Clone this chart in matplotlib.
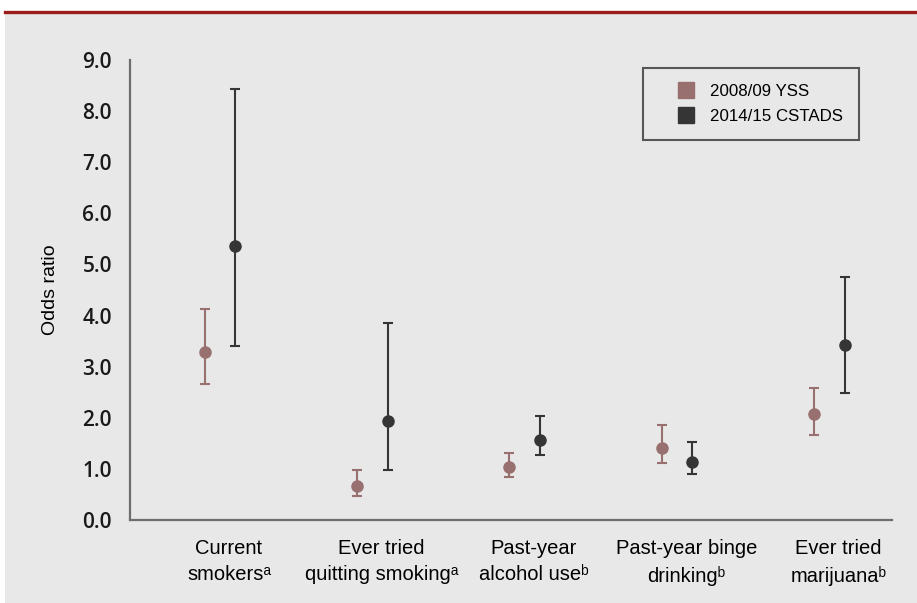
import numpy as np
import matplotlib
matplotlib.use("Agg")
import matplotlib.pyplot as plt
from matplotlib.lines import Line2D
from matplotlib.patches import Rectangle

# odds ratios with 95% CI
categories = ["Current\nsmokers\u1d43",
              "Ever tried\nquitting smoking\u1d43",
              "Past-year\nalcohol use\u1d47",
              "Past-year binge\ndrinking\u1d47",
              "Ever tried\nmarijuana\u1d47"]
yss_or = [3.29, 0.66, 1.04, 1.41, 2.07]
yss_lo = [2.67, 0.46, 0.85, 1.12, 1.66]
yss_hi = [4.12, 0.98, 1.31, 1.85, 2.59]
cst_or = [5.36, 1.94, 1.57, 1.14, 3.42]
cst_lo = [3.40, 0.97, 1.27, 0.90, 2.48]
cst_hi = [8.43, 3.85, 2.04, 1.53, 4.76]
series_names = ["2008/09 YSS", "2014/15 CSTADS"]
yticks = np.arange(0, 9.5, 1.0)

plt.rcParams['font.family'] = ['Liberation Sans', 'DejaVu Sans']

bg = '#e7e8e7'
c_yss = '#987070'
c_cst = '#353535'
spine_c = '#6e6e6e'

fig = plt.figure(figsize=(9.17, 6.03), dpi=100, facecolor='white')
# grey panel + dark red rule at the top
fig.add_artist(Rectangle((5/917, 0), 1, 1 - 14/603, transform=fig.transFigure,
                         facecolor=bg, edgecolor='none', zorder=-10))
fig.add_artist(Line2D([5/917, 1], [1 - 12/603, 1 - 12/603], transform=fig.transFigure,
                      color='#9b1c1c', lw=2.4, zorder=-5))

ax = fig.add_axes([130/917, 1 - 520/603, 762/917, 460/603])
ax.patch.set_alpha(0)

x = np.arange(len(categories))
off = 0.1
yss_or = np.array(yss_or); cst_or = np.array(cst_or)
ax.errorbar(x - off, yss_or,
            yerr=[yss_or - np.array(yss_lo), np.array(yss_hi) - yss_or],
            fmt='o', color=c_yss, ms=8, elinewidth=1.5, capsize=3.3, capthick=1.5)
ax.errorbar(x + off, cst_or,
            yerr=[cst_or - np.array(cst_lo), np.array(cst_hi) - cst_or],
            fmt='o', color=c_cst, ms=8, elinewidth=1.5, capsize=3.3, capthick=1.5)

ax.set_xlim(-0.59, 4.41)
ax.set_ylim(0, 9)
ax.set_yticks(yticks)
ax.set_yticklabels(["%.1f" % v for v in yticks], family=['Open Sans', 'DejaVu Sans'],
                   fontsize=15, fontweight='semibold', color='#1a1a1a')
ax.set_xticks(x + 0.06)
ax.set_xticklabels(categories, fontsize=14.5, color='#000000', linespacing=1.45)
ax.tick_params(axis='both', length=0)
ax.tick_params(axis='y', pad=13)
ax.tick_params(axis='x', pad=14)
ax.set_ylabel("Odds ratio", fontsize=14, color='#000000', labelpad=17)

for s in ['top', 'right']:
    ax.spines[s].set_visible(False)
for s in ['left', 'bottom']:
    ax.spines[s].set_color(spine_c)
    ax.spines[s].set_linewidth(1.6)

handles = [Line2D([], [], marker='s', ls='none', color=c_yss, ms=11),
           Line2D([], [], marker='s', ls='none', color=c_cst, ms=11)]
leg = ax.legend(handles, series_names, loc='upper left',
                bbox_to_anchor=(643/917, 1 - 68/603), bbox_transform=fig.transFigure,
                fontsize=12.2, frameon=True, fancybox=False, borderpad=0.95,
                handletextpad=-0.15, borderaxespad=0, labelspacing=0.6, handlelength=3.15)
leg.get_frame().set_edgecolor('#333333')
leg.get_frame().set_linewidth(1.5)
leg.get_frame().set_facecolor(bg)

fig.savefig("out.png", dpi=100, facecolor=fig.get_facecolor())
